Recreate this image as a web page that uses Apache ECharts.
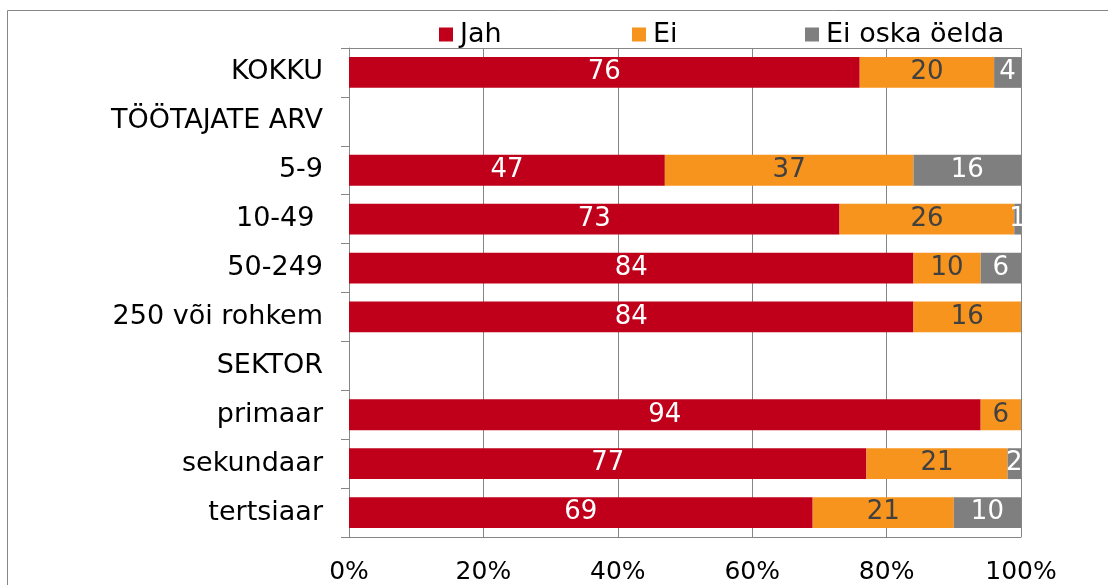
<!DOCTYPE html>
<html>
<head>
<meta charset="utf-8">
<script src="https://cdn.jsdelivr.net/npm/echarts@6/dist/echarts.min.js"></script>
<style>
  html, body { margin: 0; padding: 0; background: #ffffff; }
  #chart { width: 1108px; height: 585px; }
</style>
</head>
<body>
<div id="chart"></div>
<script>
// kategooriad ülevalt alla
const categories = ['KOKKU', 'TÖÖTAJATE ARV', '5-9', '10-49 ', '50-249', '250 või rohkem', 'SEKTOR', 'primaar', 'sekundaar', 'tertsiaar'];
const jah = [76, null, 47, 73, 84, 84, null, 94, 77, 69];
const ei = [20, null, 37, 26, 10, 16, null, 6, 21, 21];
const eiOska = [4, null, 16, 1, 6, 0, null, 0, 2, 10];
const xTicks = [0, 20, 40, 60, 80, 100];

const font = 'DejaVu Sans';
const gridColor = '#868686';

const myChart = echarts.init(document.getElementById('chart'), null, { renderer: 'canvas' });

const labelFmt = p => (p.value ? String(p.value) : '');

function makeSeries(name, data, color, textColor) {
    return {
        name: name,
        type: 'bar',
        stack: 'total',
        data: data,
        barWidth: '63%',
        xAxisIndex: 0,
        itemStyle: { color: color },
        label: {
            show: true,
            position: 'inside',
            formatter: labelFmt,
            color: textColor,
            fontFamily: font,
            fontSize: 26
        },
        emphasis: { disabled: true }
    };
}

function legendAt(left, name) {
    return {
        left: left,
        top: 21,
        padding: 0,
        data: [name],
        icon: 'rect',
        itemWidth: 14,
        itemHeight: 14,
        itemGap: 5,
        textStyle: { fontFamily: font, fontSize: 27, color: '#000', padding: [0, 0, 0, 2] }
    };
}

const option = {
    animation: false,
    backgroundColor: '#ffffff',
    graphic: [{
        type: 'rect',
        shape: { x: 7.5, y: 10.5, width: 1300, height: 800 },
        style: { fill: 'none', stroke: gridColor, lineWidth: 1 },
        silent: true
    }],
    legend: [legendAt(439, 'Jah'), legendAt(632, 'Ei'), legendAt(805, 'Ei oska öelda')],
    grid: { left: 349, right: 87, top: 48, bottom: 46, containLabel: false },
    xAxis: [{
        type: 'value',
        min: xTicks[0],
        max: xTicks[xTicks.length - 1],
        interval: 20,
        axisLine: { show: true, lineStyle: { color: gridColor } },
        axisTick: { show: false },
        splitLine: { show: true, lineStyle: { color: gridColor, width: 1 } },
        axisLabel: {
            formatter: '{value}%',
            fontFamily: font,
            fontSize: 25,
            color: '#000',
            margin: 23
        }
    }, {
        // ülemine raamjoon
        type: 'value',
        position: 'top',
        min: xTicks[0],
        max: xTicks[xTicks.length - 1],
        interval: 20,
        axisLine: { show: true, lineStyle: { color: gridColor } },
        axisTick: { show: false },
        axisLabel: { show: false },
        splitLine: { show: false }
    }],
    yAxis: {
        type: 'category',
        data: categories,
        inverse: true,
        axisLine: { show: true, lineStyle: { color: gridColor } },
        axisTick: { show: true, length: 8, lineStyle: { color: gridColor } },
        axisLabel: {
            fontFamily: font,
            fontSize: 27,
            color: '#000',
            margin: 26
        }
    },
    series: [
        makeSeries('Jah', jah, '#C0001A', '#ffffff'),
        makeSeries('Ei', ei, '#F7941E', '#404040'),
        makeSeries('Ei oska öelda', eiOska, '#7F7F7F', '#ffffff')
    ]
};

myChart.setOption(option);
</script>
</body>
</html>
